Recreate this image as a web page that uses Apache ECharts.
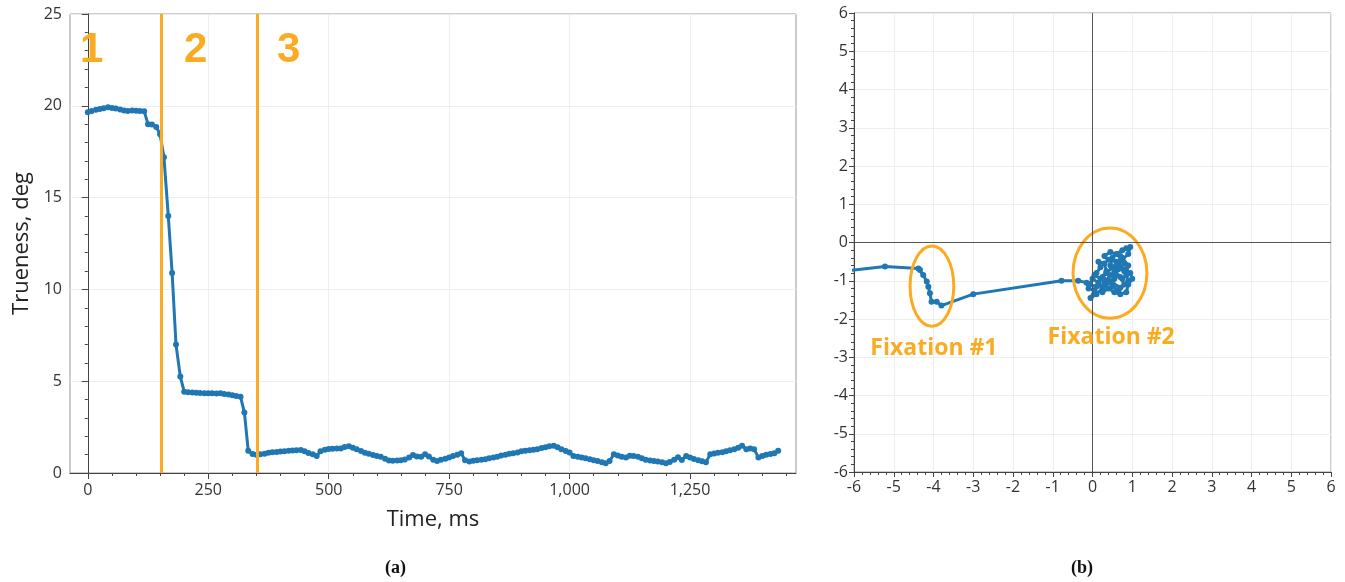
<!DOCTYPE html>
<html>
<head>
<meta charset="utf-8">
<script src="https://cdn.jsdelivr.net/npm/echarts@6/dist/echarts.min.js"></script>
<style>
html,body{margin:0;padding:0;background:#fff;}
#chart{width:1345px;height:582px;}
</style>
</head>
<body>
<div id="chart"></div>
<script>
// ---------- Data: panel (a) ----------
const timeMs = [0,8,17,25,33,42,50,58,67,75,83,92,100,108,117,125,133,142,150,158,167,175,183,192,200,208,217,225,233,242,250,258,267,275,283,292,300,308,317,325,333,342,350,358,367,375,383,392,400,408,417,425,433,442,450,458,467,475,483,492,500,508,517,525,533,542,550,558,567,575,583,592,600,608,617,625,633,642,650,658,667,675,683,692,700,708,717,725,733,742,750,758,767,775,783,792,800,808,817,825,833,842,850,858,867,875,883,892,900,908,917,925,933,942,950,958,967,975,983,992,1000,1008,1017,1025,1033,1042,1050,1058,1067,1075,1083,1092,1100,1108,1117,1125,1133,1142,1150,1158,1167,1175,1183,1192,1200,1208,1217,1225,1233,1242,1250,1258,1267,1275,1283,1292,1300,1308,1317,1325,1333,1342,1350,1358,1367,1375,1383,1392,1400,1408,1417,1425,1433];
const trueness = [19.65,19.72,19.78,19.82,19.86,19.92,19.88,19.85,19.80,19.74,19.72,19.75,19.73,19.72,19.70,19.00,18.98,18.85,18.45,17.20,14.00,10.90,7.00,5.25,4.43,4.40,4.38,4.37,4.36,4.35,4.34,4.34,4.33,4.35,4.30,4.27,4.24,4.20,4.15,3.30,1.21,1.03,1.00,1.02,1.05,1.10,1.13,1.15,1.17,1.18,1.21,1.22,1.24,1.25,1.18,1.09,1.02,0.93,1.18,1.27,1.31,1.32,1.33,1.34,1.42,1.46,1.38,1.30,1.20,1.10,1.05,0.98,0.92,0.88,0.78,0.68,0.67,0.68,0.70,0.74,0.85,0.98,0.90,0.88,1.02,0.90,0.72,0.65,0.72,0.78,0.85,0.92,1.00,1.07,0.70,0.63,0.67,0.70,0.72,0.75,0.80,0.85,0.88,0.95,1.00,1.05,1.08,1.12,1.18,1.21,1.24,1.27,1.30,1.36,1.40,1.46,1.49,1.40,1.30,1.20,1.11,0.93,0.88,0.84,0.80,0.75,0.70,0.65,0.58,0.53,0.65,1.02,0.95,0.88,0.85,0.94,0.92,0.89,0.80,0.72,0.68,0.65,0.62,0.58,0.53,0.60,0.72,0.86,0.71,0.93,0.85,0.76,0.70,0.64,0.58,1.02,1.06,1.10,1.13,1.18,1.24,1.30,1.38,1.49,1.30,1.34,1.29,0.85,0.92,1.00,1.04,1.08,1.21];
const phaseBounds = [153, 351];
const phaseLabels = ['1', '2', '3'];
const phaseLabelT = [8, 224, 417];
const phaseLabelV = [23, 23, 23];
const timeTickLabels = [0, 250, 500, 750, 1000, 1250];
const timeMinorTicks = [0,50,100,150,200,250,300,350,400,450,500,550,600,650,700,750,800,850,900,950,1000,1050,1100,1150,1200,1250,1300,1350,1400,1450];

// ---------- Data: panel (b) ----------
const gazeX = [-6.5,-5.22,-4.38,-4.34,-4.26,-4.17,-4.13,-4.09,-4.05,-3.92,-3.80,-3.00,-0.78,-0.36,-0.15,-0.10,0.05,-0.05,0.10,0.25,0.15,0.00,0.10,0.20,0.15,0.30,0.35,0.25,0.40,0.55,0.50,0.65,0.80,0.70,0.55,0.45,0.50,0.60,0.75,0.85,0.95,0.90,0.75,0.65,0.80,0.95,1.00,0.90,0.85,0.70,0.55,0.40,0.25,0.30,0.45,0.60,0.75,0.85,0.90,0.75,0.60,0.40,0.30,0.45,0.70,0.80,0.65,0.50,0.35,0.20,0.05,-0.08,0.10,0.30,0.50,0.70,0.90,0.80,0.60];
const gazeY = [-0.78,-0.63,-0.68,-0.72,-0.85,-1.02,-1.16,-1.33,-1.55,-1.55,-1.65,-1.35,-1.00,-1.00,-1.05,-1.20,-1.25,-1.45,-1.35,-1.20,-1.05,-0.95,-0.80,-0.65,-0.50,-0.55,-0.75,-0.90,-1.00,-0.95,-1.15,-1.25,-1.10,-0.90,-0.75,-0.60,-0.40,-0.30,-0.20,-0.15,-0.12,-0.30,-0.45,-0.60,-0.70,-0.80,-0.95,-1.10,-1.30,-1.35,-1.30,-1.20,-1.30,-1.05,-0.85,-0.85,-0.95,-0.85,-0.60,-0.40,-0.50,-0.45,-0.35,-0.25,-0.35,-0.55,-0.70,-0.65,-0.80,-0.95,-0.85,-1.10,-1.15,-1.12,-1.05,-1.18,-1.00,-0.75,-0.60];
const fixNames = ['Fixation #1', 'Fixation #2'];
const fixCenterX = [-4.04, 0.44];
const fixCenterY = [-1.14, -0.80];
const fixRadX = [0.55, 0.93];
const fixRadY = [1.05, 1.18];
const fixLabelX = [-3.99, 0.47];
const fixLabelY = [-2.76, -2.47];

// ---------- Styles ----------
const BLUE = '#1f77b4';
const ORANGE = '#fbab22';
const FONT = 'Open Sans';
const AXIS_DARK = '#444';

const chart = echarts.init(document.getElementById('chart'), null, {renderer: 'canvas'});

const lineData = timeMs.map((t, i) => [t, trueness[i]]);
const gazeData = gazeX.map((x, i) => [x, gazeY[i]]);
const fixData = fixCenterX.map((x, i) => [x, fixCenterY[i], fixRadX[i], fixRadY[i]]);
const fixLabelData = fixLabelX.map((x, i) => [x, fixLabelY[i], i]);
const phaseLabelData = phaseLabelT.map((t, i) => [t, phaseLabelV[i], i]);

const tickLabelStyle = {color: '#333', fontSize: 16, fontFamily: FONT};

function textRenderer(texts, font) {
  return (params, api) => {
    const c = api.coord([api.value(0), api.value(1)]);
    return {type: 'text', x: c[0], y: c[1],
      style: {text: texts[api.value(2)], font: font, fill: ORANGE, align: 'center', verticalAlign: 'middle', opacity: 1}};
  };
}

const option = {
  animation: false,
  backgroundColor: '#fff',
  grid: [
    {left: 70, top: 14, width: 726, height: 459, show: true, borderColor: '#999', borderWidth: 1, backgroundColor: 'transparent'},
    {left: 854, top: 13, width: 477, height: 459, show: true, borderColor: '#999', borderWidth: 1, backgroundColor: 'transparent'}
  ],
  xAxis: [
    {
      gridIndex: 0, type: 'value', min: -37, max: 1470,
      name: 'Time, ms', nameLocation: 'middle', nameGap: 36,
      nameTextStyle: {fontSize: 22, fontFamily: FONT, color: '#222'},
      axisLine: {show: true, lineStyle: {color: AXIS_DARK, width: 1}},
      axisTick: {show: true, customValues: timeTickLabels, length: 6, lineStyle: {color: AXIS_DARK}},
      axisLabel: Object.assign({customValues: timeTickLabels, margin: 9,
        formatter: v => v.toLocaleString('en-US')}, tickLabelStyle),
      splitLine: {show: true, customValues: timeTickLabels, lineStyle: {color: '#eeeeee'}},
      minorTick: {show: false}
    },
    {
      gridIndex: 0, type: 'value', min: -37, max: 1470, position: 'bottom',
      axisLine: {show: false},
      axisTick: {show: true, customValues: timeMinorTicks, length: 3, lineStyle: {color: AXIS_DARK}},
      axisLabel: {show: false},
      splitLine: {show: false}
    },
    {
      gridIndex: 1, type: 'value', min: -6, max: 6, interval: 1,
      axisLine: {show: true, onZero: false, lineStyle: {color: AXIS_DARK, width: 1}},
      axisTick: {show: true, length: 5, lineStyle: {color: AXIS_DARK}},
      minorTick: {show: true, splitNumber: 5, length: 3, lineStyle: {color: AXIS_DARK}},
      axisLabel: Object.assign({margin: 7}, tickLabelStyle),
      splitLine: {show: true, lineStyle: {color: '#eeeeee'}}
    }
  ],
  yAxis: [
    {
      gridIndex: 0, type: 'value', min: 0, max: 25, interval: 5,
      name: 'Trueness, deg', nameLocation: 'middle', nameGap: 33,
      nameTextStyle: {fontSize: 22, fontFamily: FONT, color: '#222'},
      axisLine: {show: true, lineStyle: {color: AXIS_DARK, width: 1}},
      axisTick: {show: true, length: 6, lineStyle: {color: AXIS_DARK}},
      minorTick: {show: true, splitNumber: 5, length: 3, lineStyle: {color: AXIS_DARK}},
      axisLabel: Object.assign({margin: 8}, tickLabelStyle),
      splitLine: {show: true, lineStyle: {color: '#eeeeee'}}
    },
    {
      gridIndex: 1, type: 'value', min: -6, max: 6, interval: 1,
      axisLine: {show: true, onZero: false, lineStyle: {color: AXIS_DARK, width: 1}},
      axisTick: {show: true, length: 5, lineStyle: {color: AXIS_DARK}},
      minorTick: {show: true, splitNumber: 5, length: 3, lineStyle: {color: AXIS_DARK}},
      axisLabel: Object.assign({margin: 6}, tickLabelStyle),
      splitLine: {show: true, lineStyle: {color: '#eeeeee'}}
    }
  ],
  graphic: [
    {type: 'text', left: 385, top: 559, style: {text: '(a)', font: 'bold 18px "Liberation Serif"', fill: '#111'}},
    {type: 'text', left: 1071, top: 559, style: {text: '(b)', font: 'bold 18px "Liberation Serif"', fill: '#111'}}
  ],
  series: [
    {
      type: 'line', xAxisIndex: 0, yAxisIndex: 0, data: lineData,
      symbol: 'circle', symbolSize: 6, showSymbol: true,
      lineStyle: {color: BLUE, width: 3}, itemStyle: {color: BLUE, opacity: 1},
      z: 3,
      markLine: {
        silent: true, symbol: ['none', 'none'], label: {show: false},
        lineStyle: {color: ORANGE, width: 3, type: 'solid', opacity: 1},
        data: phaseBounds.map(b => ({xAxis: b}))
      }
    },
    {
      type: 'custom', xAxisIndex: 0, yAxisIndex: 0, data: phaseLabelData, silent: true, z: 5,
      renderItem: textRenderer(phaseLabels, 'bold 42px "Liberation Sans"')
    },
    {
      type: 'line', xAxisIndex: 2, yAxisIndex: 1, data: gazeData,
      symbol: 'circle', symbolSize: 6, showSymbol: true, clip: true,
      lineStyle: {color: BLUE, width: 3}, itemStyle: {color: BLUE, opacity: 1},
      z: 3,
      markLine: {
        silent: true, symbol: ['none', 'none'], label: {show: false},
        lineStyle: {color: '#555', width: 1, type: 'solid', opacity: 1},
        data: [{xAxis: 0}, {yAxis: 0}]
      }
    },
    {
      type: 'custom', xAxisIndex: 2, yAxisIndex: 1, data: fixData, silent: true, z: 4,
      renderItem: (params, api) => {
        const c = api.coord([api.value(0), api.value(1)]);
        const s = api.size([api.value(2), api.value(3)]);
        return {type: 'ellipse', shape: {cx: c[0], cy: c[1], rx: s[0], ry: s[1]},
          style: {fill: 'none', stroke: ORANGE, lineWidth: 3}};
      }
    },
    {
      type: 'custom', xAxisIndex: 2, yAxisIndex: 1, data: fixLabelData, silent: true, z: 5,
      renderItem: textRenderer(fixNames, 'bold 23px "Open Sans"')
    }
  ]
};
chart.setOption(option);
</script>
</body>
</html>
